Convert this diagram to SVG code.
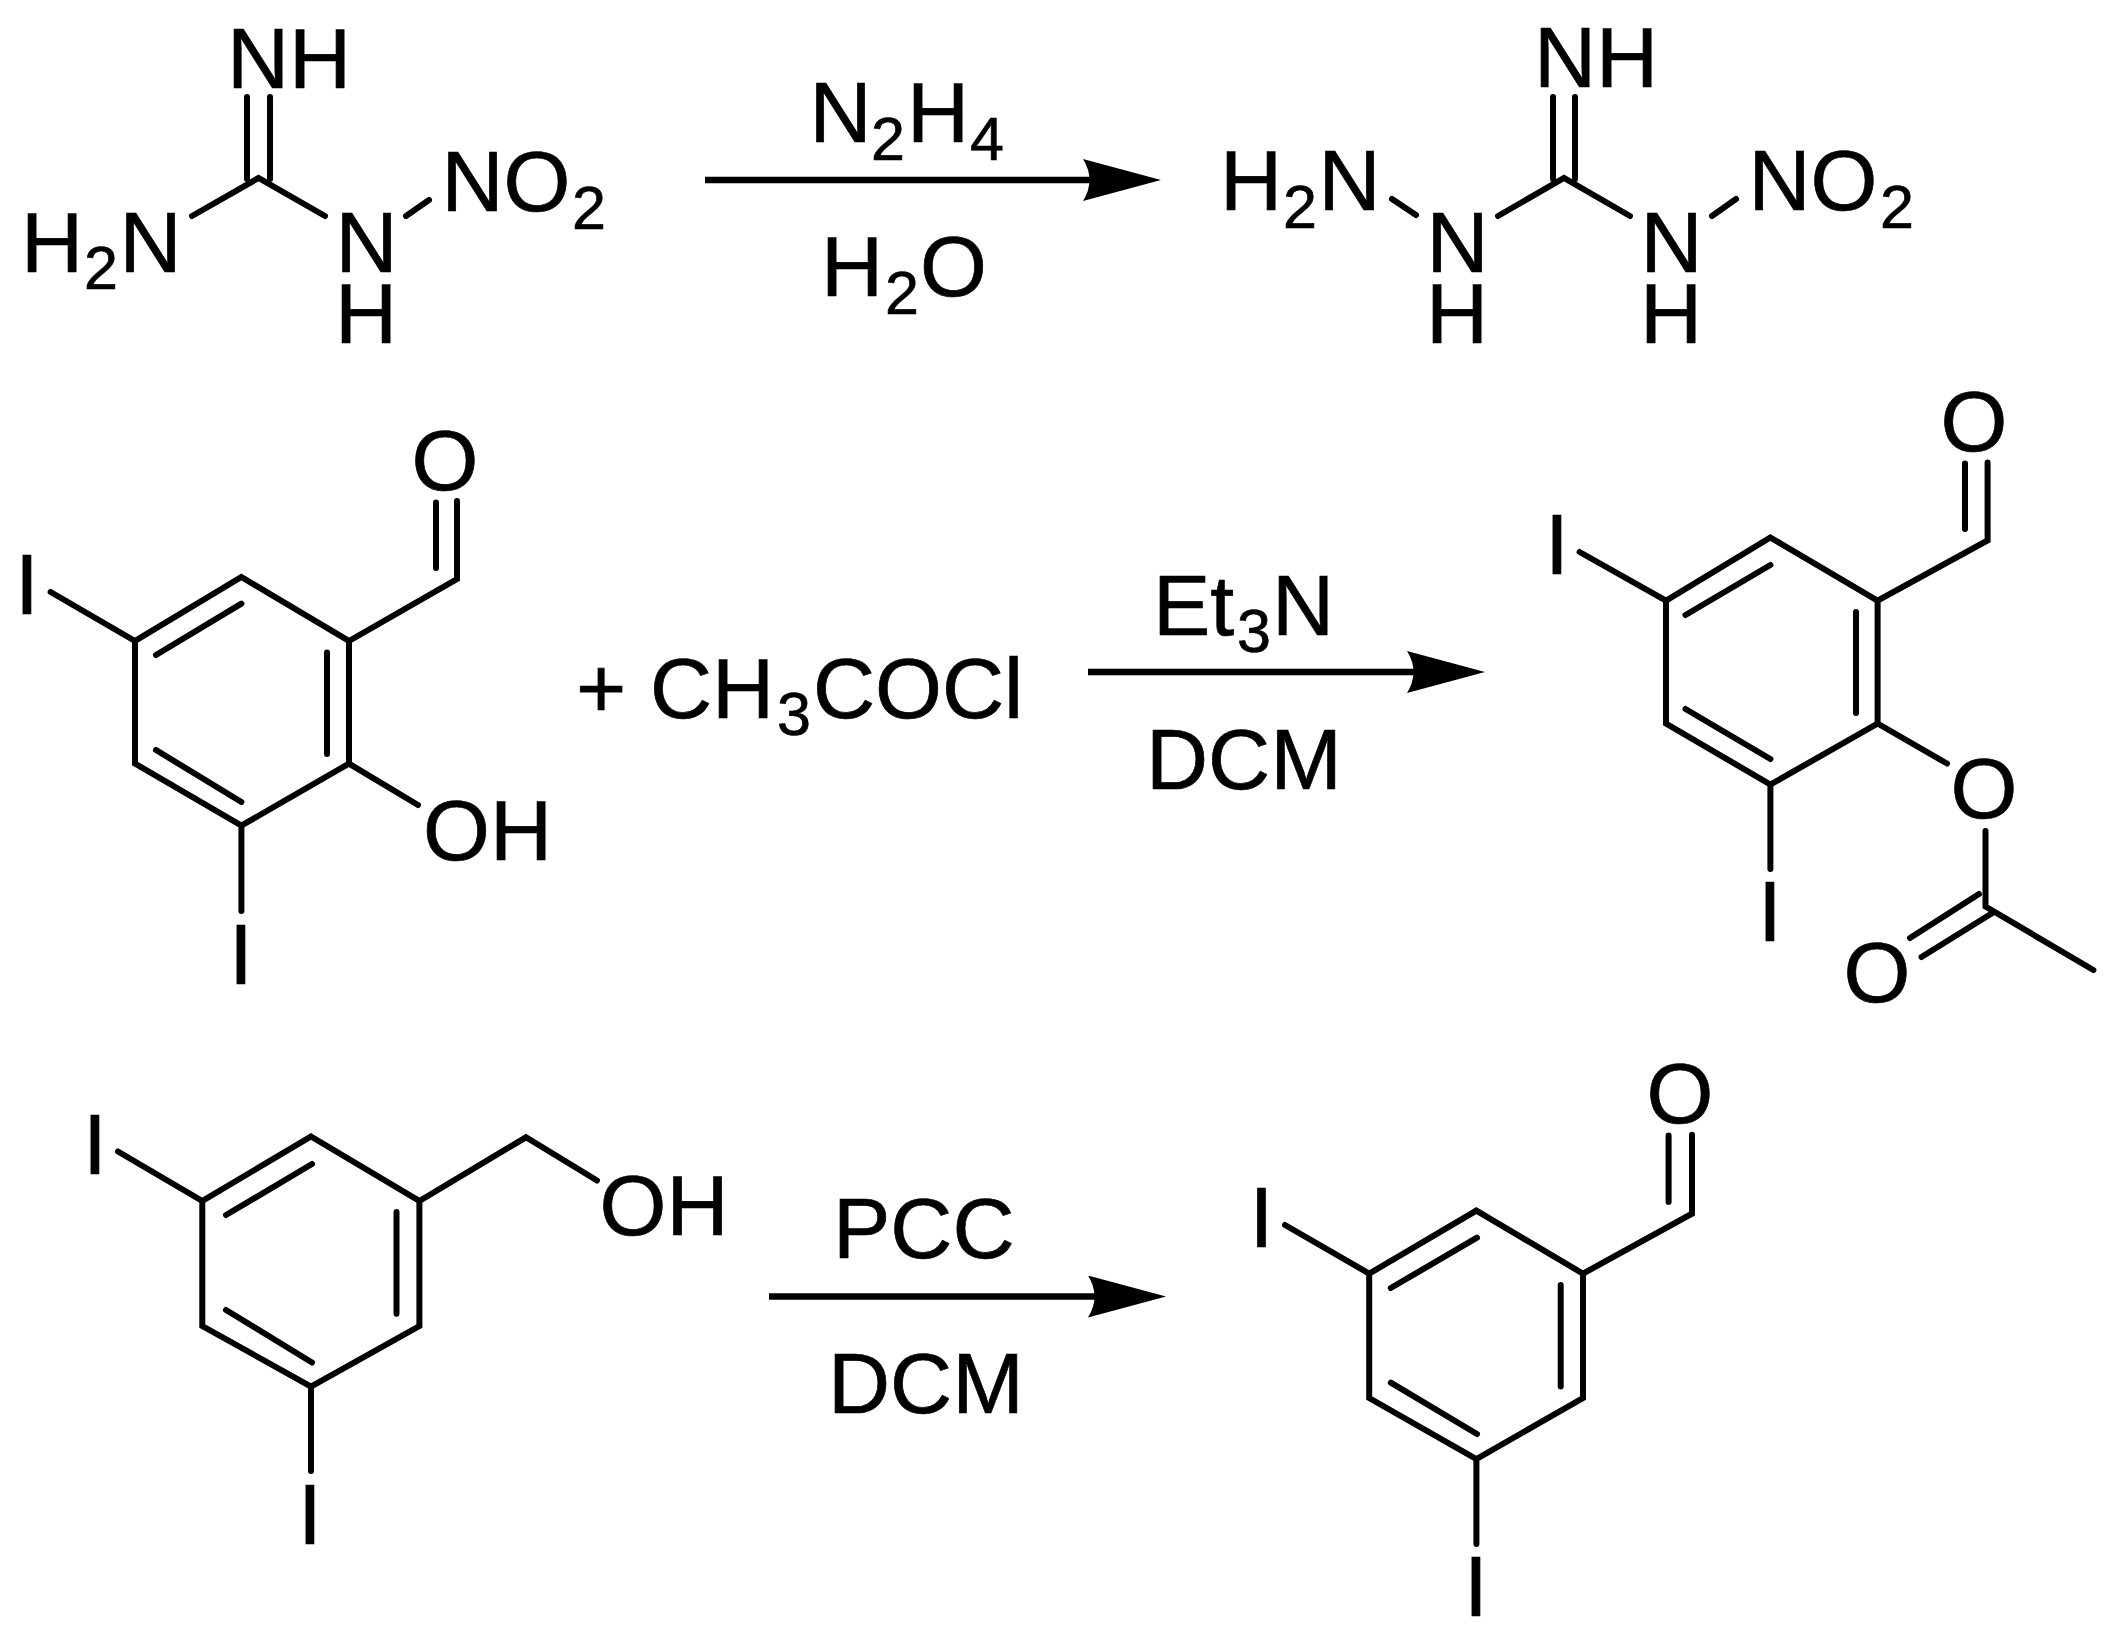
<svg xmlns="http://www.w3.org/2000/svg" width="2114" height="1638" viewBox="0 0 2114 1638">
<style>
text{font-family:"Liberation Sans",Arial,sans-serif;font-size:86px;fill:#000;stroke:#000;stroke-width:.7px}
.s{font-size:61px}
.b{fill:none;stroke:#000;stroke-width:6;stroke-linecap:round;stroke-linejoin:miter}
.a{fill:none;stroke:#000;stroke-width:6.500}
</style>
<defs>
<marker id="head" markerUnits="userSpaceOnUse" markerWidth="80" markerHeight="42" viewBox="0 0 80 42" refX="10" refY="21" orient="auto">
<path d="M0 0L78 21L0 42Q13 21 0 0Z" fill="#000"/>
</marker>
</defs>
<rect width="2114" height="1638" fill="#fff"/>

<g id="nitroguanidine">
<path class="b" d="M247 97V179M270 97V179M192 216L258.500 178L325 216M406 216L429 200"/>
<text x="227" y="88">NH</text>
<text><tspan x="21" y="272">H</tspan><tspan class="s" x="84" y="289">2</tspan><tspan x="119.500" y="272">N</tspan></text>
<text><tspan x="335.500" y="272">N</tspan><tspan x="335" y="343">H</tspan></text>
<text><tspan x="441.500" y="211">NO</tspan><tspan class="s" x="572" y="229">2</tspan></text>
</g>

<g id="aminonitroguanidine">
<path class="b" d="M1553 97V179M1575 97V179M1498 216L1564 178L1630 216M1392 199L1416 215M1712 216L1736 199"/>
<text x="1534" y="87">NH</text>
<text><tspan x="1220" y="210">H</tspan><tspan class="s" x="1283" y="228">2</tspan><tspan x="1318.500" y="210">N</tspan></text>
<text><tspan x="1426.500" y="272">N</tspan><tspan x="1426" y="343">H</tspan></text>
<text><tspan x="1640.500" y="272">N</tspan><tspan x="1640" y="343">H</tspan></text>
<text><tspan x="1748.500" y="210">NO</tspan><tspan class="s" x="1880" y="228">2</tspan></text>
</g>

<g id="diiodosalicylaldehyde">
<path class="b" d="M241.400 577L349 641V763.600L241.400 825.600L135 763.600V641ZM156 655L241.400 603.600M327 652.600V754M156 750L241.400 802M135 641L50.600 592M349 641L457 579V501M436 502.600V568M349 763.600L418 805M241.400 825.600V911"/>
<text x="15" y="613.500">I</text>
<text x="411.500" y="490">O</text>
<text x="423" y="860">OH</text>
<text x="229" y="983.600">I</text>
</g>

<g id="acetyl-chloride">
<text x="576" y="717.600">+</text>
<text><tspan x="650" y="717.600">CH</tspan><tspan class="s" x="777" y="735">3</tspan><tspan x="813" y="717.600">COCl</tspan></text>
</g>

<g id="acetate-product">
<path class="b" d="M1770.400 537.500L1877.600 600.600V723.500L1770.400 784.600L1666 723.500V600.600ZM1685.500 615L1770.400 565M1856 612V713M1685.500 709L1770.400 759M1666 600.600L1579.600 552M1877.600 600.600L1987.600 540.500V462.600M1965 463.400V529M1877.600 723.500L1947 763.500M1770.400 784.600V869M1985.500 831V906.600L2093.400 970M1994 912L1921.500 957M1979 894L1910 938"/>
<text x="1545" y="574">I</text>
<text x="1940.500" y="451">O</text>
<text x="1950.500" y="818">O</text>
<text x="1843.500" y="1002">O</text>
<text x="1758" y="941">I</text>
</g>

<g id="diiodobenzyl-alcohol">
<path class="b" d="M311 1136.500L419.400 1201V1326L311 1386.600L202.300 1326V1201ZM226 1215L312 1164M396.500 1212V1313.700M226 1310L312 1362.500M202.300 1201L118 1151.500M419.400 1201L526 1137.300L597 1180.500M311 1386.600V1471"/>
<text x="83" y="1173.600">I</text>
<text x="599.500" y="1235">OH</text>
<text x="298" y="1544">I</text>
</g>

<g id="diiodobenzaldehyde">
<path class="b" d="M1476.400 1210.600L1583 1273.600V1398L1476.400 1459L1369.200 1398V1273.600ZM1390.800 1288L1477 1237.700M1560.700 1285V1386.600M1390.800 1382.700L1477 1434M1369.200 1273.600L1285 1225M1583 1273.600L1692 1213.700V1134.700M1668.600 1135.400V1202M1476.400 1459V1544"/>
<text x="1249.500" y="1247">I</text>
<text x="1646.500" y="1123">O</text>
<text x="1464" y="1616">I</text>
</g>

<g id="connectors">
<path class="a" d="M705 180H1093" marker-end="url(#head)"/>
<path class="a" d="M1088 672H1417" marker-end="url(#head)"/>
<path class="a" d="M769 1296.500H1098" marker-end="url(#head)"/>
</g>

<g id="reagents">
<text><tspan x="809.500" y="142">N</tspan><tspan class="s" x="871" y="160">2</tspan><tspan x="907" y="142">H</tspan><tspan class="s" x="970" y="160">4</tspan></text>
<text><tspan x="821" y="296">H</tspan><tspan class="s" x="885" y="314">2</tspan><tspan x="920" y="296">O</tspan></text>
<text><tspan x="1153" y="635">Et</tspan><tspan class="s" x="1237" y="652">3</tspan><tspan x="1272" y="635">N</tspan></text>
<text x="1146" y="789">DCM</text>
<text x="833" y="1258">PCC</text>
<text x="828" y="1413">DCM</text>
</g>
</svg>
